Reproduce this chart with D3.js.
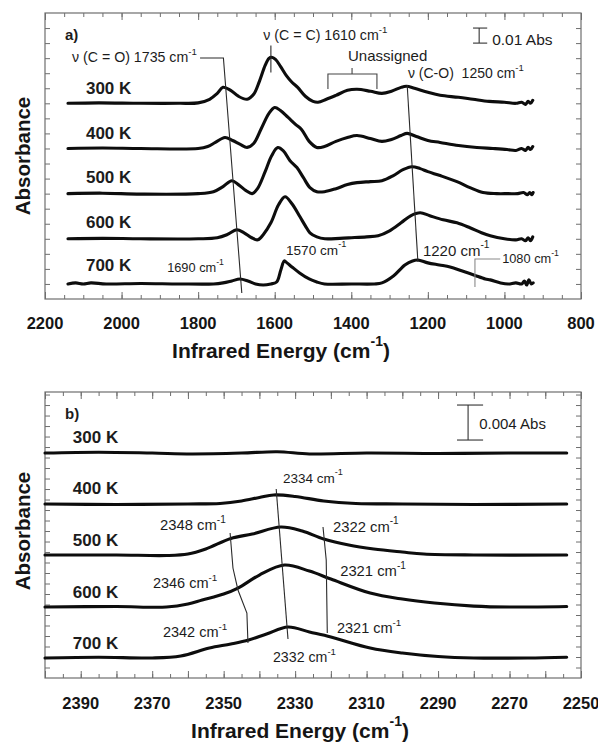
<!DOCTYPE html>
<html>
<head>
<meta charset="utf-8">
<script src="https://cdn.jsdelivr.net/npm/d3@7"></script>
<style>
  body { margin: 0; background: #fff; }
  svg { display: block; font-family: "Liberation Sans", Arial, Helvetica, sans-serif; }
  .pre { white-space: pre; }
</style>
</head>
<body>
<svg id="fig" width="598" height="746"></svg>
<script>
// ---------------- data ----------------
const temps = ["300 K", "400 K", "500 K", "600 K", "700 K"];

// Panel a) : 2200-800 cm-1 region, absorbance in mAbs, curves offset vertically
const topOffsets = [130, 100, 70, 40, 10];
const topWave300 = [2140,2060,1950,1850,1800,1770,1750,1735,1715,1695,1672,1655,1640,1625,1615,1608,1598,1585,1570,1555,1540,1520,1500,1487,1465,1440,1410,1385,1350,1320,1295,1270,1256,1235,1200,1168,1120,1082,1040,1000,970,955,945,938,932,926];
const topAbs300  = [0,0.3,0,0,0.3,2.7,6.6,10.6,8.6,4.7,2.7,6.0,14.6,25.2,29.9,30.6,29.2,24.6,18.6,14.0,10.6,4.7,1.3,0.7,2.7,5.3,8.6,9.3,8.0,6.6,8.0,10.6,11.3,10.0,7.3,5.3,4.0,2.7,1.3,0.7,0,0.7,-0.7,1.3,0,2.0];
const topWave400 = [2140,2050,1950,1800,1775,1755,1730,1710,1690,1672,1655,1635,1615,1600,1585,1565,1545,1530,1510,1490,1470,1440,1410,1385,1350,1320,1295,1270,1254,1230,1200,1168,1120,1072,1030,993,970,955,945,938,932,926];
const topAbs400  = [0,0.3,0,0,1.3,4.0,7.3,5.3,2.7,0.7,3.3,13.3,23.3,27.2,25.2,20.6,15.9,12.6,4.7,0.7,1.3,4.7,7.3,8.6,6.6,4.7,6.0,8.6,10.0,8.0,5.3,4.0,2.0,0.7,0,-0.7,-1.3,0,-1.3,0.7,-0.7,1.3];
const topWave500 = [2140,2050,1950,1800,1760,1735,1712,1695,1675,1659,1645,1625,1608,1592,1578,1560,1542,1525,1508,1490,1470,1440,1410,1385,1350,1320,1290,1265,1242,1220,1200,1168,1124,1090,1056,1020,990,965,950,940,934,928,925];
const topAbs500  = [0,0.3,-0.3,0,1.3,4.7,8.6,6.0,2.0,0,3.3,14.6,25.2,30.6,28.6,21.9,17.3,10.6,4.0,1.3,1.3,3.3,6.0,7.3,8.0,8.6,12.0,15.9,17.9,16.6,14.6,12.0,8.0,4.0,0.7,0,0,0,0.7,-0.7,0.7,-0.7,0.7];
const topWave600 = [2140,2050,1950,1800,1750,1725,1699,1680,1660,1644,1630,1610,1590,1573,1555,1534,1520,1508,1490,1469,1430,1400,1360,1330,1300,1270,1245,1220,1195,1160,1124,1090,1060,1037,1000,970,955,945,938,932,926];
const topAbs600  = [0,0.3,0,0,0.7,2.7,6.0,4.0,0.7,-0.7,2.7,10.6,22.6,27.9,23.3,14.6,8.6,4.0,1.3,0,0.3,0.7,1.3,2.0,5.3,10.6,15.3,17.3,15.3,12.6,10.6,7.3,4.0,2.0,0,-0.7,0,-1.3,0.7,-1.3,1.3];
const topWave700 = [2140,2120,2100,2080,2040,1950,1850,1760,1735,1712,1691,1670,1650,1630,1610,1595,1584,1575,1568,1555,1535,1510,1490,1470,1400,1340,1320,1290,1260,1240,1226,1200,1170,1142,1110,1080,1050,1037,1010,990,970,955,948,942,936,930,925];
const topAbs700  = [0,0.7,0,0.7,0,0.3,0,0,0.7,2.0,3.3,2.0,0,-0.7,0,1.3,9.3,15.3,14.0,11.3,7.3,3.3,1.3,0,0,0,0.7,5.3,12.6,15.3,15.9,14.0,12.6,11.3,8.6,6.0,3.3,2.7,0.7,0,0.7,0,2.0,-0.7,2.7,0,0.7];
const topXTicks = [2200, 2000, 1800, 1600, 1400, 1200, 1000, 800];

// Panel b) : CO2 region 2400-2250 cm-1, absorbance in mAbs
const botOffsets = [25.71, 19.89, 14.06, 8.11, 2.29];
const botWave300 = [2400,2385,2370,2359,2345,2335,2326,2310,2290,2270,2254];
const botAbs300  = [0,0.1,0,-0.1,0,0.15,-0.1,0,-0.05,0,0];
const botWave400 = [2400,2380,2360,2351,2345,2340,2336,2330,2322,2313,2300,2280,2254];
const botAbs400  = [0,-0.06,0,0.06,0.34,0.74,1.03,0.86,0.34,0.06,0,-0.06,0];
const botWave500 = [2400,2380,2366,2360,2355,2348,2342,2334,2328,2322,2315,2308,2300,2294,2280,2254];
const botAbs500  = [0,0,-0.06,0.11,0.69,1.89,2.4,3.2,2.74,1.83,1.14,0.69,0.34,0.11,0,0];
const botWave600 = [2400,2380,2366,2360,2356,2350,2346,2340,2333,2326,2320,2309,2300,2291,2280,2270,2254];
const botAbs600  = [0,0.06,0,0.34,0.8,1.49,2.17,3.66,4.8,4.11,3.2,1.6,0.91,0.46,0.11,0,0.06];
const botWave700 = [2400,2385,2370,2362,2354,2348,2343,2338,2332,2326,2320,2309,2300,2290,2280,2265,2254];
const botAbs700  = [0,0.09,0,0.23,1.14,1.6,2.06,2.74,3.54,2.97,2.4,1.14,0.57,0.17,0,0,0.09];
const botXTicks = [2390, 2370, 2350, 2330, 2310, 2290, 2270, 2250];

// peak-position guide lines [wavenumber, mAbs]
const guideCO   = [[1795,160.1],[1734,160.1],[1686,4.0]];
const guideCC   = [[1610,168.4],[1610,150.5]];
const guideCO2  = [[1254,142.2],[1226,24.6]];
const bracketUn = [[1461,139.5],[1461,149.5],[1333,149.5],[1333,139.5]];
const stemUn    = [[1398,149.5],[1398,153.5]];
const guide1080 = [[1077,7.9],[1077,26.6],[1011,26.6]];
const guideMid  = [[2335.3,21.6],[2332,4.46]];
const guideLeft = [[2348.2,16.57],[2347.4,12.57],[2346,10.06],[2343.5,7.43],[2343.2,4.0]];
const guideRight= [[2322.2,17.26],[2321.3,13.49],[2321,5.14]];

// ---------------- drawing ----------------
const svg = d3.select("#fig");
const X0 = 45, X1 = 581;

const xTop = d3.scaleLinear().domain([2200, 800]).range([X0, X1]);
const yTop = d3.scaleLinear().domain([0, 190]).range([299, 13]);
const xBot = d3.scaleLinear().domain([2400, 2250]).range([X0, X1]);
const yBot = d3.scaleLinear().domain([0, 32.69]).range([678, 392]);

const frameColor = "#6e6e6e";

function range(a, b, s) { const r = []; for (let v = a; s > 0 ? v <= b + 1e-9 : v >= b - 1e-9; v += s) r.push(+v.toFixed(4)); return r; }

function frame(x, y, majorX, minorX, yTicks, labels, labelPad) {
  const g = svg.append("g");
  const [ya, yb] = y.range();
  const yTop_ = Math.min(ya, yb), yBottom = Math.max(ya, yb);
  const draw = (axis, tf) => {
    const a = g.append("g").attr("transform", tf).call(axis);
    a.select(".domain").remove();
    a.selectAll("line").attr("stroke", frameColor).attr("stroke-width", 1);
    return a;
  };
  draw(d3.axisBottom(x).tickValues(minorX).tickSize(-4).tickFormat(""), `translate(0,${yBottom})`);
  draw(d3.axisBottom(x).tickValues(majorX).tickSize(-7).tickFormat(""), `translate(0,${yBottom})`);
  draw(d3.axisTop(x).tickValues(minorX).tickSize(-4).tickFormat(""), `translate(0,${yTop_})`);
  draw(d3.axisTop(x).tickValues(majorX).tickSize(-7).tickFormat(""), `translate(0,${yTop_})`);
  draw(d3.axisLeft(y).tickValues(yTicks).tickSize(-5).tickFormat(""), `translate(${X0},0)`);
  draw(d3.axisRight(y).tickValues(yTicks).tickSize(-5).tickFormat(""), `translate(${X1},0)`);
  g.append("rect").attr("x", X0).attr("y", yTop_).attr("width", X1 - X0).attr("height", yBottom - yTop_)
    .attr("fill", "none").attr("stroke", frameColor).attr("stroke-width", 1.2);
  g.selectAll("text.tl").data(labels).join("text").attr("class", "tl")
    .attr("x", d => x(d)).attr("y", yBottom + labelPad)
    .attr("text-anchor", "middle").attr("dominant-baseline", "central")
    .attr("font-size", 16.5).attr("font-weight", "bold").attr("fill", "#151515")
    .text(d => d);
}

frame(xTop, yTop, range(2200, 800, -200), range(2200, 800, -50), range(10, 180, 10), topXTicks, 24);
frame(xBot, yBot, range(2400, 2250, -10), range(2400, 2250, -5), range(1.2, 32.4, 1.2), botXTicks, 25);

function traces(x, y, waves, abss, offs) {
  const line = d3.line().x(d => x(d[0])).y(d => y(d[1])).curve(d3.curveCatmullRom.alpha(0.5));
  waves.forEach((w, i) => {
    const pts = w.map((v, j) => [v, abss[i][j] + offs[i]]);
    svg.append("path").attr("d", line(pts)).attr("fill", "none")
      .attr("stroke", "#0d0d0d").attr("stroke-width", 3.1)
      .attr("stroke-linejoin", "round").attr("stroke-linecap", "round");
  });
}
traces(xTop, yTop, [topWave300, topWave400, topWave500, topWave600, topWave700],
       [topAbs300, topAbs400, topAbs500, topAbs600, topAbs700], topOffsets);
traces(xBot, yBot, [botWave300, botWave400, botWave500, botWave600, botWave700],
       [botAbs300, botAbs400, botAbs500, botAbs600, botAbs700], botOffsets);

function guide(x, y, pts, color, width) {
  svg.append("path").attr("d", d3.line().x(d => x(d[0])).y(d => y(d[1]))(pts))
    .attr("fill", "none").attr("stroke", color || "#2a2a2a").attr("stroke-width", width || 1.1);
}
guide(xTop, yTop, guideCO);
guide(xTop, yTop, guideCC);
guide(xTop, yTop, guideCO2);
guide(xTop, yTop, bracketUn, "#444");
guide(xTop, yTop, stemUn, "#444");
guide(xTop, yTop, guide1080, "#8a8a8a");
guide(xBot, yBot, guideMid);
guide(xBot, yBot, guideLeft);
guide(xBot, yBot, guideRight);

// scale bars
function scaleBar(x, y, wx, wL, wR, a0, a1) {
  guide(x, y, [[wx, a0], [wx, a1]], "#333");
  guide(x, y, [[wL, a0], [wR, a0]], "#333");
  guide(x, y, [[wL, a1], [wR, a1]], "#333");
}
scaleBar(xTop, yTop, 1066, 1082, 1045, 170, 180);
scaleBar(xBot, yBot, 2281.6, 2284.7, 2277.4, 27.2, 31.2);

// text helpers
function label(x, y, w, a, pre, sup, post, size, weight, anchor) {
  const fs = size || 12.5;
  const t = svg.append("text").attr("class", "pre").attr("x", x(w)).attr("y", y(a))
    .attr("dominant-baseline", "central").attr("text-anchor", anchor || "start")
    .attr("font-size", fs).attr("font-weight", weight || "normal").attr("fill", "#1c1c1c");
  t.append("tspan").text(pre);
  if (sup) {
    t.append("tspan").attr("dy", -fs * 0.42).attr("font-size", fs * 0.68).text(sup);
    if (post) t.append("tspan").attr("dy", fs * 0.42).text(post);
  }
  return t;
}

// temperature labels
const topLabelA = [140.4, 110.4, 81.1, 51.1, 22.8];
temps.forEach((s, i) => label(xTop, yTop, 2093, topLabelA[i], s, null, null, 17, "bold"));
const botLabelA = [27.54, 21.71, 15.77, 9.83, 4.0];
temps.forEach((s, i) => label(xBot, yBot, 2392.2, botLabelA[i], s, null, null, 17, "bold"));

label(xTop, yTop, 2148, 176, "a)", null, null, 15, "bold");
label(xBot, yBot, 2394.4, 30.3, "b)", null, null, 15, "bold");

// panel a) annotations
label(xTop, yTop, 2129.5, 160.8, "\u03bd (C = O) 1735 cm", "-1", null, 14.2);
label(xTop, yTop, 1630, 175.4, "\u03bd (C = C) 1610 cm", "-1", null, 14.2);
label(xTop, yTop, 1408.5, 162.1, "Unassigned", null, null, 15);
label(xTop, yTop, 1252, 150.2, "\u03bd (C-O)  1250 cm", "-1", null, 14);
label(xTop, yTop, 1032, 172.8, "0.01 Abs", null, null, 15.5);
label(xTop, yTop, 1881, 21.3, "1690 cm", "-1", null, 12.8);
label(xTop, yTop, 1570.5, 32.6, "1570 cm", "-1", null, 13.6);
label(xTop, yTop, 1213, 32.6, "1220 cm", "-1", null, 15);
label(xTop, yTop, 1006, 27.2, "1080 cm", "-1", null, 12.8);

// panel b) annotations
label(xBot, yBot, 2278.5, 29.1, "0.004 Abs", null, null, 15);
label(xBot, yBot, 2333.4, 22.9, "2334 cm", "-1", null, 13.5);
label(xBot, yBot, 2367.8, 17.5, "2348 cm", "-1", null, 14.8);
label(xBot, yBot, 2319.4, 17.3, "2322 cm", "-1", null, 14.8);
label(xBot, yBot, 2369.8, 10.9, "2346 cm", "-1", null, 14.5);
label(xBot, yBot, 2317.4, 12.2, "2321 cm", "-1", null, 14.8);
label(xBot, yBot, 2367.0, 5.26, "2342 cm", "-1", null, 14.5);
label(xBot, yBot, 2318.3, 5.71, "2321 cm", "-1", null, 14.5);
label(xBot, yBot, 2336.2, 2.4, "2332 cm", "-1", null, 14.2);

// axis titles
function xTitle(cx, cy) {
  const t = svg.append("text").attr("x", cx).attr("y", cy).attr("text-anchor", "middle")
    .attr("dominant-baseline", "central").attr("font-size", 21).attr("font-weight", "bold").attr("fill", "#151515");
  t.append("tspan").text("Infrared Energy (cm");
  t.append("tspan").attr("dy", -9).attr("font-size", 14).text("-1");
  t.append("tspan").attr("dy", 9).text(")");
}
xTitle(281, 350);
xTitle(300, 730);
function yTitle(cy) {
  svg.append("text").attr("transform", `translate(22,${cy}) rotate(-90)`).attr("text-anchor", "middle")
    .attr("dominant-baseline", "central").attr("font-size", 20.5).attr("font-weight", "bold").attr("fill", "#151515")
    .text("Absorbance");
}
yTitle(156);
yTitle(531);
</script>
</body>
</html>
